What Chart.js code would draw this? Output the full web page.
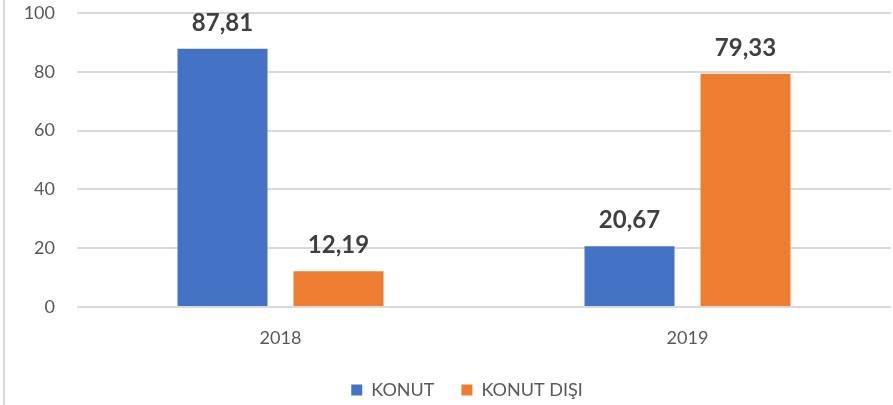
<!DOCTYPE html>
<html>
<head>
<meta charset="utf-8">
<script src="https://cdn.jsdelivr.net/npm/chart.js@4"></script>
<style>
  html, body { margin: 0; padding: 0; background: #fff; }
  #wrap { position: relative; width: 893px; height: 405px; }
  #kenar { position: absolute; left: 3px; top: 0; width: 2px; height: 405px; background: #d9d9d9; }
  canvas { position: absolute; left: 0; top: 0; }
</style>
</head>
<body>
<div id="wrap">
  <div id="kenar"></div>
  <canvas id="myChart" width="893" height="405"></canvas>
</div>
<script>
const yillar = ['2018', '2019']
const konut = [87.81, 20.67]
const konutDisi = [12.19, 79.33]
const yTickleri = [0, 20, 40, 60, 80, 100]

// bar ustu degerler (datalabels yok, elle ciziyoruz)
const degerYazisi = {
    id: 'degerYazisi',
    afterDatasetsDraw(chart) {
        const ctx = chart.ctx
        ctx.save()
        ctx.font = 'bold 24px Lato'
        ctx.fillStyle = '#404040'
        ctx.textAlign = 'center'
        ctx.textBaseline = 'bottom'
        chart.data.datasets.forEach((ds, i) => {
            chart.getDatasetMeta(i).data.forEach((bar, j) => {
                const txt = ds.data[j].toFixed(2).replace('.', ',')
                ctx.fillText(txt, bar.x, bar.y - 14)
            })
        })
        ctx.restore()
    }
}

const ctx = document.getElementById('myChart').getContext('2d')

new Chart(ctx, {
    type: 'bar',
    data: {
        labels: yillar,
        datasets: [{
            label: 'KONUT',
            data: konut,
            backgroundColor: '#4472C4'
        }, {
            label: 'KONUT DIŞI',
            data: konutDisi,
            backgroundColor: '#ED7D31'
        }]
    },
    options: {
        responsive: false,
        animation: false,
        categoryPercentage: 0.57,
        barPercentage: 0.776,
        layout: {
            padding: { top: 13, right: 2, left: 43, bottom: -4 }
        },
        plugins: {
            legend: {
                position: 'bottom',
                labels: {
                    font: { family: 'Lato', size: 18 },
                    color: '#595959',
                    boxWidth: 11,
                    boxHeight: 11,
                    padding: 27
                }
            },
            tooltip: { enabled: false }
        },
        scales: {
            x: {
                afterFit: (scale) => { scale.height = 47 },
                grid: { display: false },
                border: { display: false },
                ticks: {
                    font: { family: 'Lato', size: 18 },
                    color: '#595959',
                    padding: 12
                }
            },
            y: {
                min: 0,
                max: 100,
                afterFit: (scale) => {
                    scale.width = 34
                    // tick padding ust bosluga eklenmesin
                    scale.paddingTop = 11
                    scale.paddingBottom = 11
                    // etiketler sol bosluga tassin, kirpilmasin
                    scale._computeLabelArea = () => undefined
                },
                afterBuildTicks: (scale) => { scale.ticks = yTickleri.map(v => ({ value: v })) },
                grid: { color: '#d9d9d9', lineWidth: 2, drawTicks: false },
                border: { display: false },
                ticks: {
                    font: { family: 'Lato', size: 18 },
                    color: '#595959',
                    padding: 22
                }
            }
        }
    },
    plugins: [degerYazisi]
})
</script>
</body>
</html>
